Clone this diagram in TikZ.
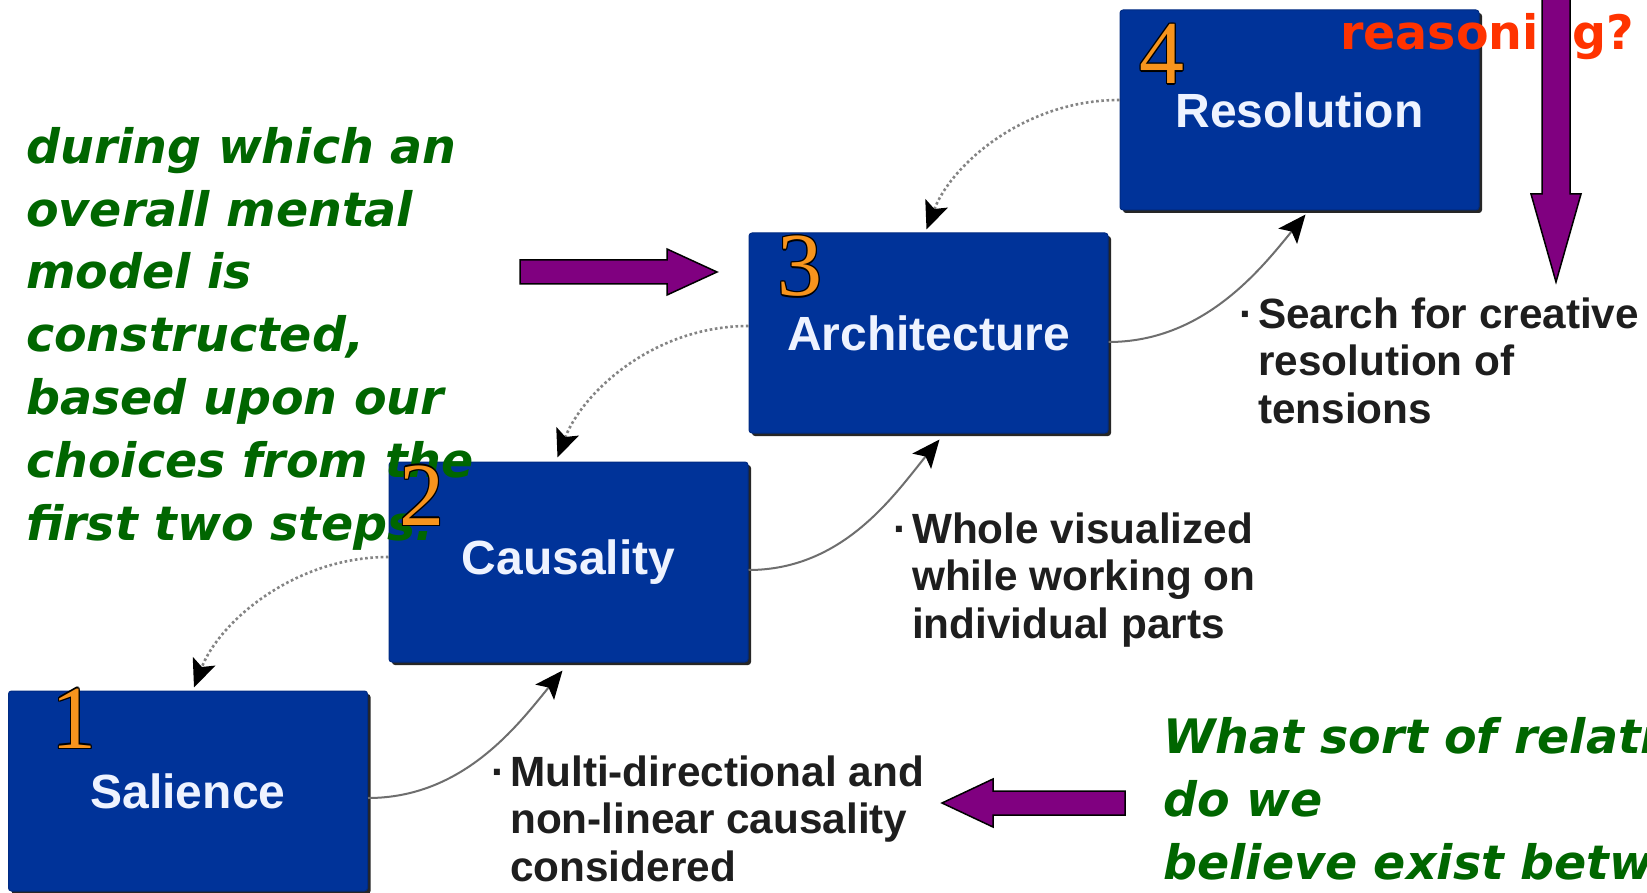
\documentclass[tikz,border=0pt]{standalone}
\usepackage{fontspec}
\usetikzlibrary{arrows.meta,calc,shadows}
\newfontfamily\vfont{DejaVu Sans}
\newfontfamily\afont{Liberation Sans}
\newfontfamily\tfont{Liberation Serif}
\definecolor{boxblue}{HTML}{003399}
\definecolor{labelwhite}{HTML}{EEF3FF}
\definecolor{dkgreen}{HTML}{006600}
\definecolor{redorange}{HTML}{FF3300}
\definecolor{numorange}{HTML}{F7941D}
\definecolor{purp}{HTML}{800080}
\definecolor{bodygray}{HTML}{1E1E1E}
\definecolor{conngray}{HTML}{6E6E6E}
\newcommand{\olnum}[1]{\leavevmode
  \rlap{\color{black}\kern1.4pt#1}\rlap{\color{black}\kern-1.4pt#1}%
  \rlap{\color{black}\raisebox{1.4pt}{#1}}\rlap{\color{black}\raisebox{-1.4pt}{#1}}%
  \rlap{\color{black}\kern1pt\raisebox{1pt}{#1}}\rlap{\color{black}\kern-1pt\raisebox{-1pt}{#1}}%
  \rlap{\color{black}\kern1pt\raisebox{-1pt}{#1}}\rlap{\color{black}\kern-1pt\raisebox{1pt}{#1}}%
  {\color{numorange}#1}}
\begin{document}
\begin{tikzpicture}[x=1pt,y=-1pt,
  stepbox/.style={rectangle, rounded corners=3pt, fill=boxblue, draw=boxblue!85!black, line width=1pt,
    minimum width=359pt, minimum height=200pt, inner sep=0pt,
    drop shadow={shadow xshift=3pt, shadow yshift=-3pt, fill=black, opacity=0.85},
    text=labelwhite, font=\afont\bfseries\fontsize{48}{52}\selectfont},
  greentxt/.style={text=dkgreen, align=left, inner sep=0pt, font=\vfont\bfseries\itshape\fontsize{47.5}{62.8}\selectfont},
  bodytxt/.style={text=bodygray, align=left, inner sep=0pt, font=\afont\bfseries\fontsize{42.3}{47.5}\selectfont},
  numtxt/.style={inner sep=0pt, anchor=base, font=\tfont\fontsize{90}{90}\selectfont},
  tipstyle/.style={-{Stealth[length=28pt,width=24pt,inset=6pt,color=black]}},
  solidconn/.style={draw=conngray, line width=2pt, tipstyle},
  dotconn/.style={draw=conngray!85, line width=2.6pt, dash pattern=on 2.6pt off 2.6pt, tipstyle},
  purparrow/.style={fill=purp, draw=black, line width=1.5pt, line join=miter}
]
\clip (0,0) rectangle (1647,893);
\fill[white] (0,0) rectangle (1647,893);

% boxes
\node[stepbox] (sal) at (188,791) {Salience};
\node[stepbox] (cau) at (568.5,562) {Causality};
\node[stepbox] (arc) at (928.5,333) {Architecture};
\node[stepbox] (res) at (1299.5,110) {Resolution};

% solid connectors
\draw[solidconn] ([yshift=-7pt]sal.east) .. controls +(95,0) and +(-45,55) .. ($(cau.south)+(-6,8)$);
\draw[solidconn] ([yshift=-8pt]cau.east) .. controls +(95,0) and +(-45,55) .. ($(arc.south)+(11,6)$);
\draw[solidconn] ([yshift=-9pt]arc.east) .. controls +(95,0) and +(-45,55) .. ($(res.south)+(6,4)$);

% dotted connectors
\draw[dotconn] ([yshift=10pt]res.west) .. controls +(-95,0) and +(25,-65) .. ($(arc.north)+(-2,-3)$);
\draw[dotconn] ([yshift=7pt]arc.west) .. controls +(-95,0) and +(25,-65) .. ($(cau.north)+(-11,-4)$);
\draw[dotconn] ([yshift=5pt]cau.west) .. controls +(-95,0) and +(25,-65) .. ($(sal.north)+(6,-3)$);

% body texts (anchor = baseline of last line)
\node[bodytxt, anchor=base west] (t3) at (1258,423) {\llap{·\kern5pt}Search for creative\\resolution of\\tensions};
\node[bodytxt, anchor=base west] (t2) at (912,638) {\llap{·\kern5pt}Whole visualized\\while working on\\individual parts};
\node[bodytxt, anchor=base west] (t1) at (510,881) {\llap{·\kern5pt}Multi-directional and\\non-linear causality\\considered};

% green texts
\node[greentxt, anchor=base west] (gl) at (26,540) {during which an\\overall mental\\model is\\constructed,\\based upon our\\choices from the\\first two steps.};
\node[greentxt, anchor=base west] (gr) at (1163,879) {What sort of relati\\do we\\believe exist betw};

% red text
\node[inner sep=0pt, anchor=base west, text=redorange, font=\vfont\bfseries\fontsize{47.5}{50}\selectfont] (rq) at (1340,50) {reasoning?};

% numbers
\node[numtxt] (n4) at (1162,84) {\olnum{4}};
\node[numtxt] (n3) at (800,296) {\olnum{3}};
\node[numtxt] (n2) at (422,525) {\olnum{2}};
\node[numtxt] (n1) at (74,748) {\olnum{1}};

% purple arrows
\draw[purparrow] (520,260) -- (667,260) -- (667,249) -- (717,272) -- (667,295) -- (667,284) -- (520,284) -- cycle;
\draw[purparrow] (1125,791) -- (993,791) -- (993,779) -- (942,803) -- (993,827) -- (993,815) -- (1125,815) -- cycle;
\draw[purparrow] (1542,-5) -- (1542,194) -- (1531,194) -- (1556,282) -- (1581,194) -- (1570,194) -- (1570,-5) -- cycle;
\end{tikzpicture}
\end{document}
